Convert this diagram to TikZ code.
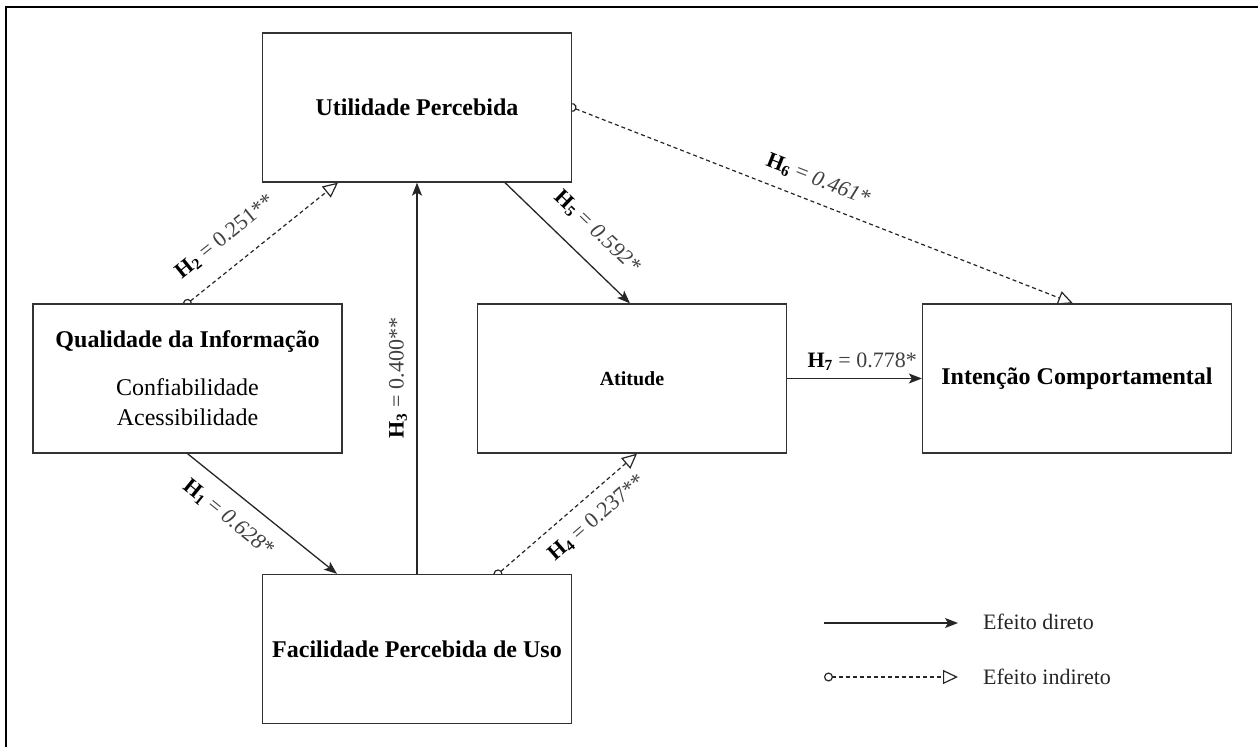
\documentclass[tikz,border=0pt]{standalone}
\usepackage{fontspec}
\setmainfont{Liberation Serif}
\usetikzlibrary{arrows.meta,backgrounds}
\tikzset{
  box/.style={draw=black!80, line width=1.3pt, fill=white, minimum width=309pt, minimum height=149pt, inner sep=0pt, align=center, font=\fontsize{24}{28}\selectfont\bfseries},
  direct/.style={draw=black!85, line width=1.3pt, -{Stealth[length=13pt,width=10pt,inset=3pt]}},
  indirect/.style={draw=black!85, line width=1.2pt, dash pattern=on 4pt off 3pt, {Circle[open,length=9pt,width=9pt]}-{Triangle[open,length=15pt,width=14pt]}, shorten <=-4.5pt},
  hlab/.style={inner sep=0pt, text=black!75, font=\fontsize{22}{26}\selectfont},
  legtext/.style={inner sep=0pt, anchor=west, text=black!85, font=\fontsize{22}{26}\selectfont},
}
\newcommand\hyp[2]{\textcolor{black}{\textbf{H\textsubscript{#1}}} = #2}
\begin{document}
\begin{tikzpicture}[x=1pt,y=-1pt]
\useasboundingbox (0,0) rectangle (1258,747);
\draw[line width=2pt, black] (6,747) -- (6,7) -- (1258,7);

\node[box] (u) at (417,107.5) {Utilidade Percebida};
\node[box] (q) at (187.5,378.5) {Qualidade da Informação\\[20pt]{\mdseries Confiabilidade}\\[2pt]{\mdseries Acessibilidade}};
\node[box, font=\fontsize{20}{24}\selectfont\bfseries] (a) at (632,378.5) {Atitude};
\node[box] (i) at (1077,378.5) {Intenção Comportamental};
\node[box] (f) at (417,649) {Facilidade Percebida de Uso};

\coordinate (l1a) at (824,623);
\coordinate (l1b) at (958,623);
\coordinate (l2a) at (824,677);
\coordinate (l2b) at (958,677);

\begin{scope}[on background layer]
  \draw[indirect] (q.north) -- ([xshift=-79pt]u.south);
  \draw[direct] (f.north) -- (u.south);
  \draw[direct] ([xshift=88pt]u.south) -- ([xshift=-2pt]a.north);
  \draw[indirect] (u.east) -- ([xshift=-4pt]i.north);
  \draw[direct] (a.east) -- (i.west);
  \draw[direct] (q.south) -- ([xshift=-80pt]f.north);
  \draw[indirect] ([xshift=81pt]f.north) -- ([xshift=5pt]a.south);
\end{scope}

\node[hlab, rotate=38.9] (h2) at (225,237) {\hyp{2}{0.251**}};
\node[hlab, rotate=90] (h3) at (398,378) {\hyp{3}{0.400**}};
\node[hlab, rotate=-43.8] (h5) at (597,232) {\hyp{5}{\textit{0.592*}}};
\node[hlab, rotate=-21.5] (h6) at (818,180) {\hyp{6}{\textit{0.461*}}};
\node[hlab, anchor=base east] (h7) at (917,367) {\hyp{7}{0.778*}};
\node[hlab, rotate=-39.1] (h1) at (228,518) {\hyp{1}{\textit{0.628*}}};
\node[hlab, rotate=41.1] (h4) at (597,518) {\hyp{4}{0.237**}};

\draw[direct] (l1a) -- (l1b);
\draw[indirect, shorten <=0pt] (l2a) -- (l2b);
\node[legtext] (e1) at (983,622) {Efeito direto};
\node[legtext] (e2) at (983,677) {Efeito indireto};
\end{tikzpicture}
\end{document}
